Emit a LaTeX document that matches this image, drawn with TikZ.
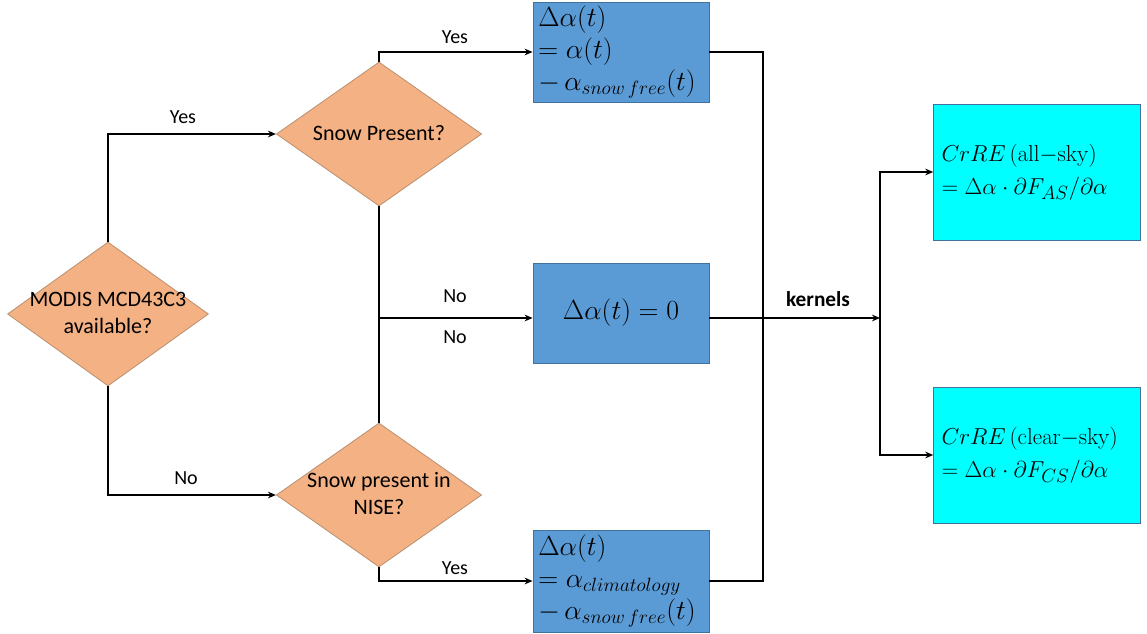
\documentclass[tikz,border=0pt]{standalone}
\usepackage[no-math]{fontspec}
\setmainfont{Carlito}
\usetikzlibrary{shapes.geometric,arrows.meta}
\definecolor{peach}{HTML}{F4B183}
\definecolor{peachline}{HTML}{B89070}
\definecolor{boxblue}{HTML}{5B9BD5}
\definecolor{boxblueline}{HTML}{41719C}
\definecolor{boxcyan}{HTML}{00FFFF}
\newcommand{\dtext}[1]{\makebox[0pt]{\smash{\raisebox{-5pt}{\begin{tabular}[c]{@{}c@{}}#1\end{tabular}}}}}
\tikzset{
  decision/.style={diamond, draw=peachline, line width=0.6pt, fill=peach, inner sep=0pt,
    minimum width=154pt, minimum height=108pt, align=center,
    font=\fontsize{16.5}{20}\selectfont},
  calcbox/.style={rectangle, draw=boxblueline, line width=0.6pt, fill=boxblue,
    minimum width=132pt, minimum height=75pt, inner sep=0pt},
  resultbox/.style={rectangle, draw=boxblueline, line width=0.6pt, fill=boxcyan,
    minimum width=155pt, minimum height=102pt, inner sep=0pt},
  conn/.style={line width=1.5pt, -{Stealth[length=6pt,width=5pt]}},
  wire/.style={line width=1.5pt},
  lbl/.style={font=\fontsize{15}{17}\selectfont, inner sep=0pt}
}
\begin{document}
\begin{tikzpicture}[x=0.75pt,y=-0.75pt]
\useasboundingbox (0,0) rectangle (1147,634);
% decisions
\node[decision, minimum width=150.75pt] (A) at (108,314) {\dtext{MODIS MCD43C3\\available?}};
\node[decision] (B) at (379,134) {\dtext{Snow Present?}};
\node[decision] (C) at (379,495) {\dtext{Snow present in\\NISE?}};
% calc boxes
\node[calcbox] (D1) at (621,52) {\parbox{124pt}{\fontsize{20}{24}\selectfont
  $\Delta\alpha(t)$\\$=\alpha(t)$\\$-\,\alpha_{snow\,free}(t)$}};
\node[calcbox] (D2) at (621,313) {\fontsize{22}{26}\selectfont $\Delta\alpha(t)=0$};
\node[calcbox, minimum height=76.5pt] (D3) at (621,581) {\parbox{124pt}{\fontsize{20}{24}\selectfont
  $\Delta\alpha(t)$\\$=\alpha_{climatology}$\\$-\,\alpha_{snow\,free}(t)$}};
% results
\node[resultbox] (E1) at (1037,172) {\parbox{143pt}{\fontsize{19}{25}\selectfont
  $CrRE\,(\mathrm{all}{-}\mathrm{sky})$\\$=\Delta\alpha\cdot\partial F_{AS}/\partial\alpha$}};
\node[resultbox] (E2) at (1037,455) {\parbox{143pt}{\fontsize{19}{25}\selectfont
  $CrRE\,(\mathrm{clear}{-}\mathrm{sky})$\\$=\Delta\alpha\cdot\partial F_{CS}/\partial\alpha$}};
% coordinates
\coordinate (bus) at (763,52);
\coordinate (split) at (880,318);
\coordinate (junc) at (379,318);
% connectors
\draw[conn] (A.north) |- (B.west);
\draw[conn] (A.south) |- (C.west);
\draw[conn] (B.north) |- (D1.west);
\draw[wire] (B.south) -- (C.north);
\draw[conn] (junc) -- (D2.west |- junc);
\draw[conn] (C.south) |- (D3.west);
\draw[wire] (D1.east) -| (bus |- D3.east) -- (D3.east);
\draw[conn] (D2.east |- split) -- (split);
\draw[conn] (split) |- (E1.west);
\draw[conn] (split) |- (E2.west);
% labels
\node[lbl] (yA) at (183,117) {Yes};
\node[lbl] (nA) at (186,478) {No};
\node[lbl] (yB) at (455,37) {Yes};
\node[lbl] (nB) at (455,296) {No};
\node[lbl] (nC) at (455,337) {No};
\node[lbl] (yC) at (455,568) {Yes};
\node[lbl, font=\bfseries\fontsize{16}{18}\selectfont] (kern) at (818,299) {kernels};
\end{tikzpicture}
\end{document}
